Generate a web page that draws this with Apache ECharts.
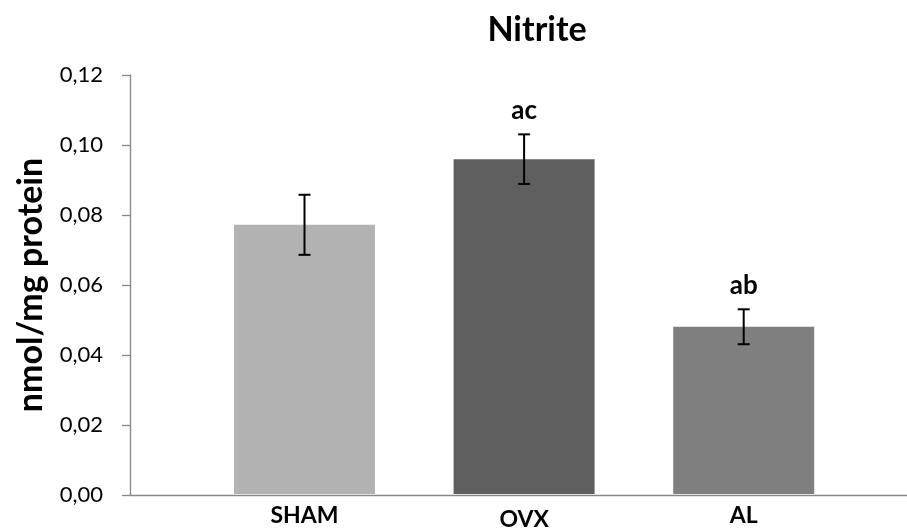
<!DOCTYPE html>
<html>
<head>
<meta charset="utf-8">
<script src="https://cdn.jsdelivr.net/npm/echarts@6/dist/echarts.min.js"></script>
<style>
  html, body { margin: 0; padding: 0; background: #ffffff; }
  #chart { width: 907px; height: 531px; }
</style>
</head>
<body>
<div id="chart"></div>
<script>
// Nitrite levels per group (nmol/mg protein), mean ± error
const categories = ['SHAM', 'OVX', 'AL'];
const means = [0.0771, 0.0959, 0.0479];
const errors = [0.0086, 0.0071, 0.0050];
const letters = ['', 'ac', 'ab'];
const barColors = ['#b2b2b2', '#5f5f5f', '#7f7f7f'];
const yTicks = { min: 0, max: 0.12, interval: 0.02 };

const FONT = 'Lato';
const AXIS_GRAY = '#868686';

const chart = echarts.init(document.getElementById('chart'), null, { renderer: 'canvas' });

const errorData = means.map((m, i) => [i, m, errors[i]]);

const option = {
  backgroundColor: '#ffffff',
  animation: false,
  title: {
    text: 'Nitrite',
    left: 532,
    textAlign: 'center',
    top: 8,
    textStyle: { fontFamily: FONT, fontWeight: 'bold', fontSize: 34, color: '#000' }
  },
  grid: [
    // frame grid: carries the value axis and the long baseline
    { left: 130, right: 0, top: 75, bottom: 36 },
    // bar grid: holds the three category bands
    { left: 194.7, width: 658.8, top: 75, bottom: 36 }
  ],
  xAxis: [
    {
      gridIndex: 0, type: 'value', min: 0, max: 1,
      axisLine: { show: true, lineStyle: { color: AXIS_GRAY, width: 1.3 } },
      axisTick: { show: false }, axisLabel: { show: false }, splitLine: { show: false }
    },
    {
      gridIndex: 1, type: 'category', data: categories,
      axisLine: { show: false }, axisTick: { show: false }, splitLine: { show: false },
      axisLabel: {
        margin: 10,
        fontFamily: FONT, fontWeight: 'bold', fontSize: 23, color: '#000',
        formatter: v => v === 'OVX' ? '{low|' + v + '}' : v,
        rich: { low: { fontFamily: FONT, fontWeight: 'bold', fontSize: 23, color: '#000', padding: [4, 0, 0, 0] } }
      }
    }
  ],
  yAxis: [
    {
      gridIndex: 0, type: 'value', min: yTicks.min, max: yTicks.max, interval: yTicks.interval,
      axisLine: { show: true, lineStyle: { color: AXIS_GRAY, width: 1.3 } },
      axisTick: { show: true, length: 8, lineStyle: { color: AXIS_GRAY, width: 1.3 } },
      splitLine: { show: false },
      axisLabel: {
        margin: 27, fontFamily: FONT, fontSize: 22, color: '#000',
        formatter: v => v.toFixed(2).replace('.', ',')
      },
      name: 'nmol/mg protein',
      nameLocation: 'middle',
      nameRotate: 90,
      nameGap: 82,
      nameTextStyle: { fontFamily: FONT, fontWeight: 'bold', fontSize: 34, color: '#000' }
    },
    {
      gridIndex: 1, type: 'value', min: yTicks.min, max: yTicks.max, interval: yTicks.interval,
      show: false
    }
  ],
  series: [
    {
      type: 'bar',
      xAxisIndex: 1, yAxisIndex: 1,
      barWidth: '64.2%',
      data: means.map((v, i) => ({ value: v, itemStyle: { color: barColors[i] } })),
      z: 2
    },
    {
      type: 'custom',
      xAxisIndex: 1, yAxisIndex: 1,
      data: errorData,
      z: 3,
      renderItem: function (params, api) {
        const x = api.value(0);
        const m = api.value(1);
        const e = api.value(2);
        const top = api.coord([x, m + e]);
        const bot = api.coord([x, m - e]);
        const half = 6;
        const style = { stroke: '#000', lineWidth: 2 };
        const children = [
          { type: 'line', shape: { x1: top[0], y1: top[1], x2: bot[0], y2: bot[1] }, style },
          { type: 'line', shape: { x1: top[0] - half, y1: top[1], x2: top[0] + half, y2: top[1] }, style },
          { type: 'line', shape: { x1: bot[0] - half, y1: bot[1], x2: bot[0] + half, y2: bot[1] }, style }
        ];
        const txt = letters[params.dataIndex];
        if (txt) {
          children.push({
            type: 'text',
            style: {
              x: top[0], y: top[1] - 11,
              text: txt,
              textAlign: 'center', textVerticalAlign: 'bottom',
              fontFamily: FONT, fontWeight: 'bold', fontSize: 26, fill: '#000'
            }
          });
        }
        return { type: 'group', children };
      }
    }
  ]
};

chart.setOption(option);
</script>
</body>
</html>
